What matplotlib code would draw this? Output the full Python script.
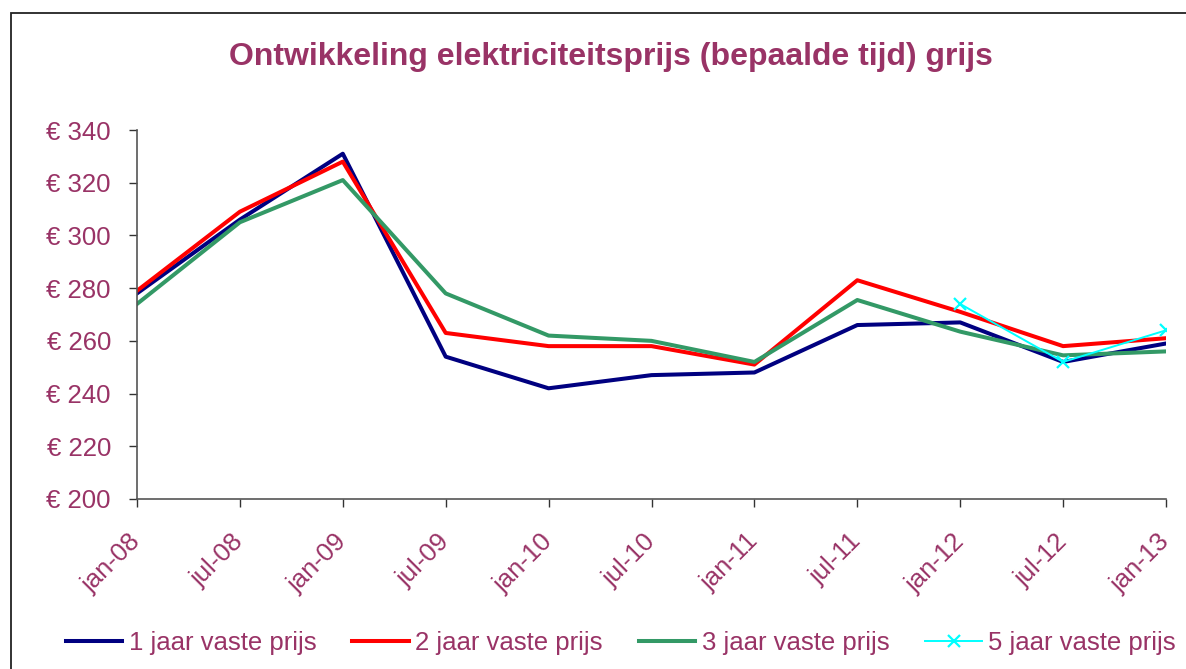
import numpy as np
import matplotlib
matplotlib.use('Agg')
import matplotlib.pyplot as plt
from matplotlib.patches import Rectangle

# data
periods = ["jan-08", "jul-08", "jan-09", "jul-09", "jan-10", "jul-10",
           "jan-11", "jul-11", "jan-12", "jul-12", "jan-13"]
jaar1 = [278, 306, 331, 254, 242, 247, 248, 266, 267, 252, 259]
jaar2 = [279, 309, 328, 263, 258, 258, 251, 283, 271, 258, 261]
jaar3 = [274, 305, 321, 278, 262, 260, 252, 275.5, 263.5, 254.5, 256]
jaar5 = [274, 252, 264]          # starts at jan-12
jaar5_start = 8

yticks = [200, 220, 240, 260, 280, 300, 320, 340]

TXT = "#993366"
plt.rcParams['font.family'] = ['Liberation Sans', 'DejaVu Sans']

def main():
    fig = plt.figure(figsize=(11.86, 6.69), dpi=100)
    ax = fig.add_axes([137/1186, 1 - 499/669, (1166 - 137)/1186, (499 - 130)/669])

    x = np.arange(len(periods))
    ax.plot(x, jaar1, color="#000080", lw=2.9, label="1 jaar vaste prijs")
    ax.plot(x, jaar2, color="#FF0000", lw=2.9, label="2 jaar vaste prijs")
    ax.plot(x, jaar3, color="#339966", lw=2.9, label="3 jaar vaste prijs")
    x5 = np.arange(jaar5_start, jaar5_start + len(jaar5))
    ax.plot(x5, jaar5, color="#00FFFF", lw=1.4, marker="x", ms=9, mew=1.6,
            label="5 jaar vaste prijs")

    ax.set_xlim(0, len(periods) - 1)
    ax.set_ylim(200, 340)
    ax.set_yticks(yticks)
    ax.set_yticklabels([f"€ {v}" for v in yticks])
    ax.set_xticks(x)
    ax.set_xticklabels(periods, rotation=45, ha="right", va="center",
                       rotation_mode="anchor")

    ax.tick_params(axis="both", direction="out", length=5.8, width=1,
                   color="#333333", labelcolor=TXT, labelsize=18.5)
    ax.tick_params(axis="y", pad=13)
    ax.tick_params(axis="x", pad=22)
    for side in ["top", "right"]:
        ax.spines[side].set_visible(False)
    for side in ["left", "bottom"]:
        ax.spines[side].set_color("#555555")
        ax.spines[side].set_linewidth(1.2)

    fig.text(611/1186, 1 - 57/669, "Ontwikkeling elektriciteitsprijs (bepaalde tijd) grijs",
             ha="center", va="center", fontsize=23, fontweight="bold", color=TXT)

    leg = fig.legend(loc="center", bbox_to_anchor=(621/1186, 1 - 643/669), ncol=4,
                     frameon=False, fontsize=18.5, handlelength=2.2,
                     handletextpad=0.25, columnspacing=1.4)
    for t in leg.get_texts():
        t.set_color(TXT)

    # outer chart border (runs off the bottom and right of the image)
    fig.add_artist(Rectangle((11/1186, -0.1), 1.2, 1.1 - 13/669,
                             transform=fig.transFigure, fill=False,
                             edgecolor="#222222", lw=1.3))

    fig.savefig("out.png", dpi=100, facecolor="white")

if __name__ == "__main__":
    main()
